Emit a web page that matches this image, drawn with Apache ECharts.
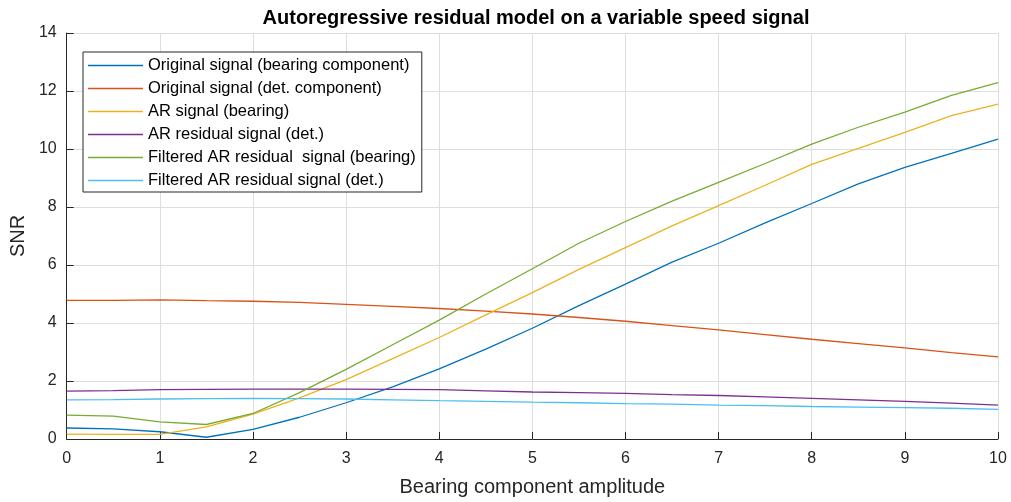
<!DOCTYPE html>
<html><head><meta charset="utf-8">
<script src="https://cdn.jsdelivr.net/npm/echarts@6/dist/echarts.min.js"></script>
<style>html,body{margin:0;padding:0;background:#fff}#c{width:1011px;height:502px}</style>
</head><body><div id="c"></div>
<script>
const xs = [0,0.5,1,1.5,2,2.5,3,3.5,4,4.5,5,5.5,6,6.5,7,7.5,8,8.5,9,9.5,10];
const origBearing = [0.38,0.35,0.25,0.06,0.33,0.75,1.25,1.8,2.42,3.1,3.82,4.6,5.34,6.1,6.75,7.45,8.12,8.8,9.37,9.85,10.34];
const origDet = [4.78,4.78,4.8,4.77,4.75,4.71,4.64,4.57,4.5,4.41,4.31,4.19,4.06,3.91,3.76,3.6,3.44,3.29,3.14,2.98,2.83];
const arBearing = [0.17,0.16,0.16,0.42,0.86,1.42,2.05,2.77,3.5,4.28,5.05,5.85,6.6,7.35,8.05,8.75,9.47,10.02,10.57,11.15,11.55];
const arResidDet = [1.65,1.67,1.7,1.71,1.72,1.72,1.72,1.71,1.7,1.66,1.62,1.6,1.57,1.53,1.5,1.45,1.4,1.35,1.3,1.24,1.17];
const filtBearing = [0.82,0.79,0.59,0.5,0.88,1.6,2.4,3.25,4.1,5.0,5.87,6.75,7.5,8.2,8.85,9.5,10.17,10.75,11.27,11.85,12.29];
const filtDet = [1.35,1.36,1.38,1.39,1.4,1.39,1.38,1.35,1.32,1.3,1.27,1.25,1.22,1.2,1.17,1.15,1.12,1.1,1.08,1.06,1.02];
const names = ['Original signal (bearing component)','Original signal (det. component)','AR signal (bearing)','AR residual signal (det.)','Filtered AR residual  signal (bearing)','Filtered AR residual signal (det.)'];
const colors = ['#0072BD','#D95319','#EDB120','#7E2F8E','#77AC30','#4DBEEE'];
const all = [origBearing,origDet,arBearing,arResidDet,filtBearing,filtDet];
const ff = '"Liberation Sans", Arial, sans-serif';
const chart = echarts.init(document.getElementById('c'));
chart.setOption({
  animation:false,
  backgroundColor:'#fff',
  title:{text:'Autoregressive residual model on a variable speed signal',left:531,textAlign:'center',top:3,
    textStyle:{fontFamily:ff,fontSize:20,fontWeight:'bold',color:'#000'}},
  grid:{left:65,right:13,top:33,bottom:62},
  legend:{orient:'vertical',left:83,top:52,icon:'rect',itemWidth:55,itemHeight:1.5,itemGap:6,
    padding:[5,6,3,5],borderColor:'#262626',borderWidth:1,backgroundColor:'#fff',
    textStyle:{fontFamily:ff,fontSize:16.5,lineHeight:17,color:'#000'},data:names},
  xAxis:{type:'value',min:0,max:10,interval:1,name:'Bearing component amplitude',nameLocation:'middle',nameGap:38,
    nameTextStyle:{fontFamily:ff,fontSize:20,color:'#262626'},
    axisLine:{lineStyle:{color:'#262626'}},axisTick:{inside:true,length:7,lineStyle:{color:'#262626'}},
    axisLabel:{fontFamily:ff,fontSize:16,color:'#262626',margin:12},
    splitLine:{show:true,lineStyle:{color:'#dedede'}}},
  yAxis:{type:'value',min:0,max:14,interval:2,name:'SNR',nameLocation:'middle',nameGap:38,
    nameTextStyle:{fontFamily:ff,fontSize:20,color:'#262626'},
    axisLine:{show:true,lineStyle:{color:'#262626'}},axisTick:{show:true,inside:true,length:7,lineStyle:{color:'#262626'}},
    axisLabel:{fontFamily:ff,fontSize:16,color:'#262626',margin:10},
    splitLine:{show:true,lineStyle:{color:'#dedede'}}},
  series: all.map((arr,i)=>({name:names[i],type:'line',symbol:'none',
    data:xs.map((x,j)=>[x,arr[j]]),lineStyle:{color:colors[i],width:1.3},itemStyle:{color:colors[i]}}))
});
</script></body></html>
